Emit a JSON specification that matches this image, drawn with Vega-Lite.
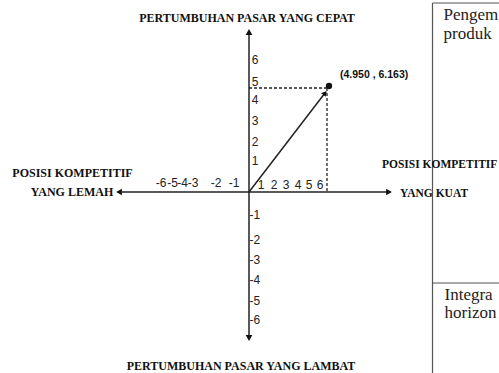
{
  "$schema": "https://vega.github.io/schema/vega-lite/v6.json",
  "width": 499,
  "height": 373,
  "padding": 0,
  "autosize": {"type": "fit", "contains": "padding"},
  "background": "white",
  "config": {"view": {"stroke": null}},
  "datasets": {
    "segments": [
      {"kind": "axis", "x": 0, "y": 16.0, "x2": 0, "y2": -14.6},
      {"kind": "axis", "x": -13.0, "y": 0, "x2": 14.0, "y2": 0},
      {"kind": "arrow", "x": 0, "y": 0, "x2": 7.6, "y2": 9.9},
      {"kind": "dashed", "x": 0, "y": 10.4, "x2": 8.0, "y2": 10.4},
      {"kind": "dashed", "x": 7.8, "y": 10.4, "x2": 7.8, "y2": 0},
      {"kind": "table", "x": 18.35, "y": 18.9, "x2": 18.35, "y2": -18.1},
      {"kind": "table", "x": 18.35, "y": 18.9, "x2": 25, "y2": 18.9},
      {"kind": "table", "x": 18.35, "y": -9.1, "x2": 25, "y2": -9.1}
    ],
    "heads": [
      {"dir": "up", "x": 0, "y": 16.0},
      {"dir": "down", "x": 0, "y": -14.6},
      {"dir": "left", "x": -13.0, "y": 0},
      {"dir": "right", "x": 14.0, "y": 0}
    ],
    "labels": [
      {"role": "ytick", "text": "6", "x": 0.6, "y": 13.2},
      {"role": "ytick", "text": "5", "x": 0.6, "y": 11.0},
      {"role": "ytick", "text": "4", "x": 0.6, "y": 9.2},
      {"role": "ytick", "text": "3", "x": 0.6, "y": 7.1},
      {"role": "ytick", "text": "2", "x": 0.6, "y": 5.0},
      {"role": "ytick", "text": "1", "x": 0.6, "y": 3.1},
      {"role": "yneg", "text": "-1", "x": 0.05, "y": -2.3},
      {"role": "yneg", "text": "-2", "x": 0.05, "y": -4.8},
      {"role": "yneg", "text": "-3", "x": 0.05, "y": -6.8},
      {"role": "yneg", "text": "-4", "x": 0.05, "y": -8.8},
      {"role": "yneg", "text": "-5", "x": 0.05, "y": -10.9},
      {"role": "yneg", "text": "-6", "x": 0.05, "y": -12.8},
      {"role": "xtick", "text": "1", "x": 1.2, "y": 0.7},
      {"role": "xtick", "text": "2", "x": 2.5, "y": 0.7},
      {"role": "xtick", "text": "3", "x": 3.7, "y": 0.7},
      {"role": "xtick", "text": "4", "x": 4.9, "y": 0.7},
      {"role": "xtick", "text": "5", "x": 6.0, "y": 0.7},
      {"role": "xtick", "text": "6", "x": 7.1, "y": 0.7},
      {"role": "xtick", "text": "-6", "x": -8.8, "y": 0.9},
      {"role": "xtick", "text": "-5", "x": -7.65, "y": 0.9},
      {"role": "xtick", "text": "-4", "x": -6.65, "y": 0.9},
      {"role": "xtick", "text": "-3", "x": -5.6, "y": 0.9},
      {"role": "xtick", "text": "-2", "x": -3.3, "y": 0.9},
      {"role": "xtick", "text": "-1", "x": -1.5, "y": 0.9},
      {"role": "title", "text": "PERTUMBUHAN PASAR YANG CEPAT", "x": -0.2, "y": 17.4},
      {"role": "title", "text": "PERTUMBUHAN PASAR YANG LAMBAT", "x": -0.8, "y": -17.4},
      {"role": "title", "text": "POSISI KOMPETITIF", "x": -17.65, "y": 1.9},
      {"role": "title", "text": "YANG LEMAH", "x": -17.7, "y": 0.0},
      {"role": "side", "text": "POSISI KOMPETITIF", "x": 13.3, "y": 2.7},
      {"role": "side", "text": "YANG KUAT", "x": 15.1, "y": -0.2},
      {"role": "table", "text": "Pengem", "x": 19.45, "y": 17.7},
      {"role": "table", "text": "produk", "x": 19.45, "y": 15.8},
      {"role": "table", "text": "Integra", "x": 19.55, "y": -10.3},
      {"role": "table", "text": "horizon", "x": 19.55, "y": -12.1},
      {"role": "coord", "text": "(4.950 , 6.163)", "x": 9.1, "y": 11.7}
    ]
  },
  "encoding": {
    "x": {"field": "x", "type": "quantitative", "axis": null, "scale": {"domain": [-24.9, 25.0], "nice": false, "zero": false}},
    "y": {"field": "y", "type": "quantitative", "axis": null, "scale": {"domain": [-18.1, 19.2], "nice": false, "zero": false}}
  },
  "layer": [
    {
      "data": {"name": "segments"},
      "transform": [{"filter": "datum.kind === 'axis' || datum.kind === 'arrow'"}],
      "mark": {"type": "rule", "color": "#222", "strokeWidth": 1.5},
      "encoding": {"x2": {"field": "x2"}, "y2": {"field": "y2"}}
    },
    {
      "data": {"name": "segments"},
      "transform": [{"filter": "datum.kind === 'dashed'"}],
      "mark": {"type": "rule", "color": "#222", "strokeWidth": 1.3, "strokeDash": [3, 2]},
      "encoding": {"x2": {"field": "x2"}, "y2": {"field": "y2"}}
    },
    {
      "data": {"name": "segments"},
      "transform": [{"filter": "datum.kind === 'table'"}],
      "mark": {"type": "rule", "color": "#555", "strokeWidth": 1.2, "clip": true},
      "encoding": {"x2": {"field": "x2"}, "y2": {"field": "y2"}}
    },
    {
      "data": {"name": "heads"},
      "mark": {"type": "point", "filled": true, "color": "#111", "size": 45, "opacity": 1},
      "encoding": {
        "shape": {"field": "dir", "type": "nominal", "legend": null,
          "scale": {"domain": ["up", "down", "left", "right"], "range": ["triangle-up", "triangle-down", "triangle-left", "triangle-right"]}}
      }
    },
    {
      "data": {"values": [{"x": 7.6, "y": 9.9}]},
      "mark": {"type": "point", "filled": true, "color": "#111", "size": 35, "opacity": 1, "shape": "triangle-up", "angle": 37.5}
    },
    {
      "data": {"values": [{"x": 8.0, "y": 10.6}]},
      "mark": {"type": "point", "filled": true, "color": "#111", "size": 40, "opacity": 1, "shape": "circle"}
    },
    {
      "data": {"name": "labels"},
      "transform": [{"filter": "datum.role === 'ytick' || datum.role === 'xtick'"}],
      "mark": {"type": "text", "font": "Liberation Sans", "fontSize": 12, "color": "#222", "align": "center", "baseline": "middle"},
      "encoding": {"text": {"field": "text"}}
    },
    {
      "data": {"name": "labels"},
      "transform": [{"filter": "datum.role === 'yneg'"}],
      "mark": {"type": "text", "font": "Liberation Sans", "fontSize": 12, "color": "#222", "align": "left", "baseline": "middle"},
      "encoding": {"text": {"field": "text"}}
    },
    {
      "data": {"name": "labels"},
      "transform": [{"filter": "datum.role === 'title'"}],
      "mark": {"type": "text", "font": "Liberation Serif", "fontSize": 12, "fontWeight": "bold", "color": "#111", "align": "center", "baseline": "middle"},
      "encoding": {"text": {"field": "text"}}
    },
    {
      "data": {"name": "labels"},
      "transform": [{"filter": "datum.role === 'side'"}],
      "mark": {"type": "text", "font": "Liberation Serif", "fontSize": 11.5, "fontWeight": "bold", "color": "#111", "align": "left", "baseline": "middle"},
      "encoding": {"text": {"field": "text"}}
    },
    {
      "data": {"name": "labels"},
      "transform": [{"filter": "datum.role === 'table'"}],
      "mark": {"type": "text", "font": "Liberation Serif", "fontSize": 17, "color": "#222", "align": "left", "baseline": "middle"},
      "encoding": {"text": {"field": "text"}}
    },
    {
      "data": {"name": "labels"},
      "transform": [{"filter": "datum.role === 'coord'"}],
      "mark": {"type": "text", "font": "Liberation Sans", "fontSize": 10.5, "fontWeight": "bold", "color": "#111", "align": "left", "baseline": "middle"},
      "encoding": {"text": {"field": "text"}}
    }
  ]
}
